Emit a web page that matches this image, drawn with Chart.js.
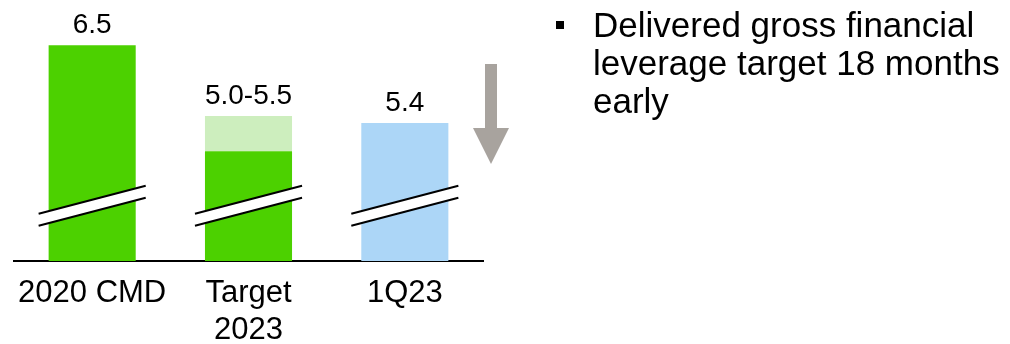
<!DOCTYPE html>
<html>
<head>
<meta charset="utf-8">
<script src="https://cdn.jsdelivr.net/npm/chart.js@4"></script>
<style>
  body { margin: 0; background: #fff; }
  #wrap { position: relative; width: 1010px; height: 344px; }
  #note {
    position: absolute; left: 593px; top: 6px;
    font-family: "Liberation Sans", Arial, sans-serif;
    font-size: 35px; line-height: 38px; color: #000; white-space: nowrap;
  }
  #bullet { position: absolute; left: 556px; top: 21px; width: 8px; height: 8px; background: #000; }
</style>
</head>
<body>
<div id="wrap">
  <canvas id="myChart" width="1010" height="344"></canvas>
  <div id="bullet"></div>
  <div id="note">Delivered gross financial<br>leverage target 18 months<br>early</div>
</div>
<script>
// gross financial leverage, broken axis chart
const categories = [['2020 CMD'], ['Target', '2023'], ['1Q23']];
const leverage = [6.5, 5.0, 5.4];
const targetRange = [null, [5.0, 5.5], null];
const valueLabels = ['6.5', '5.0-5.5', '5.4'];

const green = '#4cd100';
const lightGreen = '#cdeebe';
const lightBlue = '#acd6f7';
const breakValue = 4.23;

const extras = {
    id: 'extras',
    afterDatasetsDraw(chart) {
        const ctx = chart.ctx;
        const y = chart.scales.y;
        const bars = chart.getDatasetMeta(0).data;
        const rangeBars = chart.getDatasetMeta(1).data;

        // scale break marks
        const yc = y.getPixelForValue(breakValue);
        bars.forEach(b => {
            const half = b.width / 2 + 10;
            const x1 = b.x - half, x2 = b.x + half;
            const rise = 14;
            ctx.save();
            ctx.beginPath();
            ctx.moveTo(x1, yc + rise - 6);
            ctx.lineTo(x2, yc - rise - 6);
            ctx.lineTo(x2, yc - rise + 6);
            ctx.lineTo(x1, yc + rise + 6);
            ctx.closePath();
            ctx.fillStyle = '#fff';
            ctx.fill();
            ctx.strokeStyle = '#000';
            ctx.lineWidth = 2;
            ctx.beginPath();
            ctx.moveTo(x1, yc + rise - 6);
            ctx.lineTo(x2, yc - rise - 6);
            ctx.moveTo(x1, yc + rise + 6);
            ctx.lineTo(x2, yc - rise + 6);
            ctx.stroke();
            ctx.restore();
        });

        // value labels above each bar
        ctx.save();
        ctx.font = '28px "Liberation Sans", Arial, sans-serif';
        ctx.fillStyle = '#000';
        ctx.textAlign = 'center';
        ctx.textBaseline = 'alphabetic';
        bars.forEach((b, i) => {
            let top = b.y;
            if (targetRange[i] && rangeBars[i]) top = Math.min(top, rangeBars[i].y);
            ctx.fillText(valueLabels[i], b.x, top - 12);
        });
        ctx.restore();

        // grey down arrow
        const ax = chart.chartArea.right + 8;
        ctx.save();
        ctx.fillStyle = '#a8a39e';
        ctx.fillRect(ax - 6, 64, 12, 64);
        ctx.beginPath();
        ctx.moveTo(ax - 18, 128);
        ctx.lineTo(ax + 18, 128);
        ctx.lineTo(ax, 164);
        ctx.closePath();
        ctx.fill();
        ctx.restore();
    }
};

const ctx = document.getElementById('myChart').getContext('2d');
const myChart = new Chart(ctx, {
    type: 'bar',
    data: {
        labels: categories,
        datasets: [{
            label: 'Leverage',
            data: leverage,
            backgroundColor: [green, green, lightBlue],
            barPercentage: 0.557,
            categoryPercentage: 1
        }, {
            label: 'Target range',
            data: targetRange,
            backgroundColor: lightGreen,
            barPercentage: 0.557,
            categoryPercentage: 1
        }]
    },
    options: {
        responsive: false,
        animation: false,
        layout: { padding: { left: 14, right: 527, top: 0, bottom: 0 } },
        plugins: { legend: { display: false }, tooltip: { enabled: false } },
        scales: {
            x: {
                stacked: true,
                grid: { display: false, drawTicks: false },
                border: { display: true, color: '#000', width: 2 },
                ticks: {
                    color: '#000',
                    padding: 14,
                    font: { family: '"Liberation Sans", Arial, sans-serif', size: 31, lineHeight: 1.2 }
                },
                afterFit(scale) { scale.height = 83; }
            },
            y: {
                display: false,
                min: 3.45,
                max: 7.14
            }
        }
    },
    plugins: [extras]
});
</script>
</body>
</html>
